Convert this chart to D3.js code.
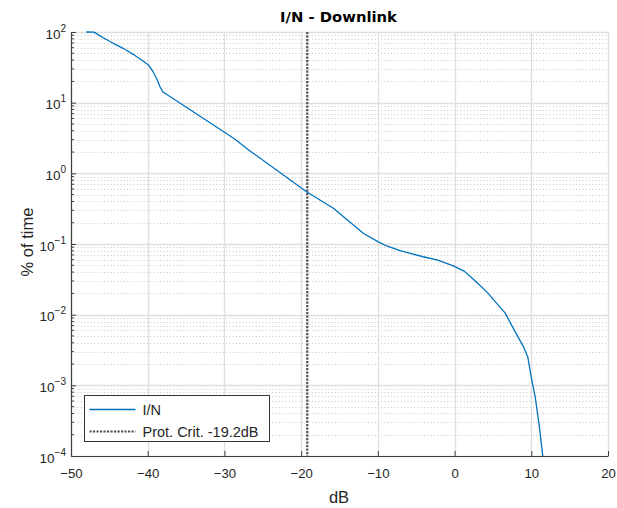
<!DOCTYPE html>
<html>
<head>
<meta charset="utf-8">
<script src="https://cdn.jsdelivr.net/npm/d3@7"></script>
<style>
  body { margin: 0; background: #fff; }
  svg { font-family: "Liberation Sans", Arial, sans-serif; }
</style>
</head>
<body>
<svg id="chart"></svg>
<script>
// Curve values
var dB = [-48, -47.0, -45.8, -44.5, -43.2, -41.9, -40.8, -39.9, -39.3, -38.75, -38.4, -38.05, -28.8, -26.7, -19.3, -15.8, -11.9, -10.0, -8.85, -7.1, -4.1, -2.3, -0.15, 1.3, 2.7, 4.2, 6.6, 7.9, 9.0, 9.55, 10.05, 10.5, 11.05, 11.5];
var pctTime = [100, 99.5, 83, 69.2, 58.8, 48.3, 40.2, 34.1, 27.4, 20.9, 16.8, 14.3, 3.13, 2.09, 0.55, 0.32, 0.142, 0.108, 0.0938, 0.0803, 0.066, 0.0594, 0.0489, 0.041, 0.030, 0.021, 0.0105, 0.0057, 0.0035, 0.0025, 0.0012, 0.0007, 0.00026, 0.0001];

var protCrit = -19.2;
var xTicks = [-50, -40, -30, -20, -10, 0, 10, 20];
var yExponents = [2, 1, 0, -1, -2, -3, -4];
var legendLabels = ["I/N", "Prot. Crit. -19.2dB"];

var W = 617, H = 508;
var margin = { top: 32, right: 9, bottom: 52, left: 71 },
    width = W - margin.left - margin.right,
    height = H - margin.top - margin.bottom;

var svg = d3.select("#chart").attr("width", W).attr("height", H);
var g = svg.append("g").attr("transform", "translate(" + margin.left + "," + margin.top + ")");

var x = d3.scaleLinear().domain([-50, 20]).range([0, width]);
var y = d3.scaleLog().domain([1e-4, 1e2]).range([height, 0]);

// minor y values
var minorY = [];
for (var k = -4; k < 2; k++) {
    for (var m = 2; m <= 9; m++) minorY.push(m * Math.pow(10, k));
}

// minor grid (dotted)
g.append("g").selectAll("line").data(minorY).enter().append("line")
    .attr("x1", 0).attr("x2", width)
    .attr("y1", d => Math.round(y(d)) + 0.5).attr("y2", d => Math.round(y(d)) + 0.5)
    .attr("stroke", "#c8c8c8").attr("stroke-width", 1).attr("stroke-dasharray", "1,2.3");

// major grid
g.append("g").selectAll("line").data(xTicks).enter().append("line")
    .attr("x1", d => Math.round(x(d)) + 0.5).attr("x2", d => Math.round(x(d)) + 0.5)
    .attr("y1", 0).attr("y2", height)
    .attr("stroke", "#dfdfdf").attr("stroke-width", 1.3);
g.append("g").selectAll("line").data(yExponents).enter().append("line")
    .attr("x1", 0).attr("x2", width)
    .attr("y1", d => Math.round(y(Math.pow(10, d))) + 0.5).attr("y2", d => Math.round(y(Math.pow(10, d))) + 0.5)
    .attr("stroke", "#dfdfdf").attr("stroke-width", 1.3);

// protection criterion line
g.append("line")
    .attr("x1", x(protCrit)).attr("x2", x(protCrit))
    .attr("y1", 0).attr("y2", height)
    .attr("stroke", "#505050").attr("stroke-width", 2.2)
    .attr("stroke-dasharray", "2.2,1.3");

// curve
var line = d3.line()
    .x((d, i) => x(dB[i]))
    .y(d => y(d));
g.append("path")
    .datum(pctTime)
    .attr("fill", "none")
    .attr("stroke", "#0072BD")
    .attr("stroke-width", 1.3)
    .attr("stroke-linejoin", "round")
    .attr("d", line);

// axes
var xAxis = g.append("g")
    .attr("transform", "translate(0," + height + ")")
    .call(d3.axisBottom(x).tickValues(xTicks).tickSize(-5).tickPadding(13).tickSizeOuter(0));
xAxis.select(".domain").attr("stroke", "#404040").attr("stroke-width", 1.2);
xAxis.selectAll(".tick line").attr("stroke", "#404040");
xAxis.selectAll(".tick text")
    .style("font-size", "13.2px").style("font-family", "Liberation Sans, Arial, sans-serif")
    .attr("fill", "#262626");

var yAxis = g.append("g")
    .call(d3.axisLeft(y).tickValues(yExponents.map(e => Math.pow(10, e))).tickFormat("").tickSize(-5).tickSizeOuter(0));
yAxis.select(".domain").attr("stroke", "#404040").attr("stroke-width", 1.2);
yAxis.selectAll(".tick line").attr("stroke", "#404040");

// minor y ticks
g.append("g").selectAll("line").data(minorY).enter().append("line")
    .attr("x1", 0).attr("x2", 3)
    .attr("y1", d => y(d)).attr("y2", d => y(d))
    .attr("stroke", "#404040").attr("stroke-width", 1);

// y tick labels 10^n
var yl = g.append("g").selectAll("text").data(yExponents).enter().append("text")
    .attr("x", -5)
    .attr("y", d => y(Math.pow(10, d)) + 6.5)
    .attr("text-anchor", "end")
    .attr("fill", "#262626");
yl.append("tspan").text("10").style("font-size", "13.5px");
yl.append("tspan").attr("dy", -7).style("font-size", "10px").text(d => String(d).replace("-", "\u2212"));

// axis titles
svg.append("text")
    .attr("x", margin.left + width / 2 - 0.5)
    .attr("y", 503)
    .attr("text-anchor", "middle")
    .attr("fill", "#262626")
    .style("font-size", "16.5px")
    .text("dB");

svg.append("text")
    .attr("transform", "translate(32.5," + (margin.top + height / 2 - 2) + ") rotate(-90)")
    .attr("text-anchor", "middle")
    .attr("fill", "#262626")
    .style("font-size", "16.5px")
    .text("% of time");

svg.append("text")
    .attr("x", 338.5)
    .attr("y", 21.7)
    .attr("text-anchor", "middle")
    .attr("fill", "#000")
    .style("font-family", "DejaVu Sans, sans-serif")
    .style("font-size", "14.8px")
    .style("font-weight", "bold")
    .text("I/N - Downlink");

// legend
var lg = svg.append("g").attr("transform", "translate(84.5,395.5)");
lg.append("rect")
    .attr("width", 185).attr("height", 46)
    .attr("fill", "#fff").attr("stroke", "#333").attr("stroke-width", 1);
var rows = lg.selectAll("g.row").data(legendLabels).enter().append("g")
    .attr("transform", (d, i) => "translate(0," + (14 + i * 22) + ")");
rows.append("line")
    .attr("x1", 5).attr("x2", 51)
    .attr("stroke", (d, i) => i === 0 ? "#0072BD" : "#505050")
    .attr("stroke-width", (d, i) => i === 0 ? 1.3 : 2.2)
    .attr("stroke-dasharray", (d, i) => i === 0 ? null : "2.2,1.3");
rows.append("text")
    .attr("x", 58)
    .attr("y", 5)
    .attr("fill", "#262626")
    .style("font-size", "14.5px")
    .text(d => d);
</script>
</body>
</html>
